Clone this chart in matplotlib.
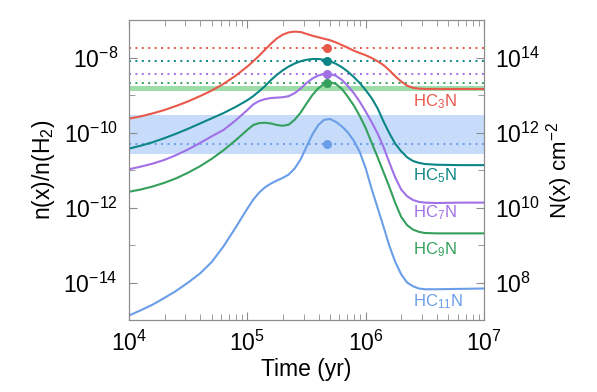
import numpy as np
import matplotlib
matplotlib.use("Agg")
import matplotlib.pyplot as plt
from matplotlib.ticker import FixedLocator, NullFormatter, LogLocator

plt.rcParams['font.family'] = ['Liberation Sans', 'DejaVu Sans']
plt.rcParams['mathtext.default'] = 'regular'
plt.rcParams['axes.unicode_minus'] = False

# log10 of time (yr) at which values were read
log_time = [4.0, 4.1, 4.2, 4.3, 4.4, 4.5, 4.6, 4.7, 4.8, 4.9,
            5.0, 5.05, 5.1, 5.15, 5.2, 5.25, 5.3, 5.35, 5.4, 5.45,
            5.5, 5.55, 5.6, 5.65, 5.7, 5.75, 5.8, 5.85, 5.9, 5.95,
            6.0, 6.05, 6.1, 6.15, 6.2, 6.25, 6.3, 6.35, 6.4, 6.45,
            6.5, 6.6, 6.8, 7.0]

# log10 abundances
hc3n = [-9.63, -9.57, -9.49, -9.40, -9.29, -9.17, -9.03, -8.88, -8.70, -8.49,
        -8.24, -8.10, -7.95, -7.79, -7.63, -7.49, -7.39, -7.33, -7.31, -7.32,
        -7.37, -7.42, -7.46, -7.50, -7.54, -7.60, -7.67, -7.74, -7.82, -7.88,
        -7.94, -8.01, -8.10, -8.20, -8.34, -8.50, -8.64, -8.75, -8.81, -8.83,
        -8.84, -8.84, -8.84, -8.84]
hc5n = [-10.43, -10.35, -10.26, -10.15, -10.03, -9.90, -9.76, -9.62, -9.48, -9.32,
        -9.14, -9.03, -8.90, -8.76, -8.60, -8.46, -8.34, -8.24, -8.16, -8.10,
        -8.06, -8.04, -8.04, -8.06, -8.10, -8.17, -8.26, -8.38, -8.52, -8.68,
        -8.87, -9.08, -9.35, -9.70, -10.02, -10.30, -10.50, -10.66, -10.76, -10.81,
        -10.84, -10.86, -10.87, -10.87]
hc7n = [-10.98, -10.91, -10.83, -10.73, -10.60, -10.45, -10.28, -10.10, -9.93, -9.68,
        -9.40, -9.25, -9.16, -9.11, -9.08, -9.07, -9.06, -9.03, -8.95, -8.83,
        -8.68, -8.56, -8.48, -8.44, -8.44, -8.49, -8.60, -8.76, -8.95, -9.18,
        -9.44, -9.72, -10.02, -10.38, -10.80, -11.20, -11.52, -11.70, -11.80, -11.85,
        -11.87, -11.88, -11.87, -11.87]
hc9n = [-11.58, -11.52, -11.44, -11.34, -11.22, -11.07, -10.90, -10.70, -10.47, -10.21,
        -9.93, -9.80, -9.75, -9.74, -9.76, -9.80, -9.82, -9.79, -9.66, -9.47,
        -9.23, -9.00, -8.82, -8.70, -8.66, -8.71, -8.84, -9.05, -9.28, -9.56,
        -9.88, -10.27, -10.65, -11.05, -11.45, -11.88, -12.25, -12.47, -12.59, -12.65,
        -12.68, -12.69, -12.69, -12.69]
hc11n = [-14.88, -14.74, -14.59, -14.41, -14.22, -14.00, -13.76, -13.45, -13.03, -12.54,
         -12.03, -11.79, -11.60, -11.46, -11.36, -11.28, -11.21, -11.12, -10.96, -10.72,
         -10.38, -10.05, -9.80, -9.66, -9.64, -9.72, -9.84, -10.00, -10.22, -10.52,
         -10.95, -11.50, -12.00, -12.50, -13.02, -13.45, -13.78, -14.00, -14.10, -14.16,
         -14.18, -14.18, -14.17, -14.16]

names = ['HC$_3$N', 'HC$_5$N', 'HC$_7$N', 'HC$_9$N', 'HC$_{11}$N']
colors = ['#e8584b', '#0b8585', '#a070e6', '#34a05c', '#6a9ee8']
series = [hc3n, hc5n, hc7n, hc9n, hc11n]

# observed values (log10): dotted lines & markers
obs_log = [-7.75, -8.09, -8.44, -8.67, -10.31]
obs_time = 4.7e5
# observed bands (log10)
green_band = (-8.90, -8.77)
blue_band = (-10.56, -9.54)
# label positions (log10)
label_log = [-9.17, -11.14, -12.15, -13.13, -14.52]
label_time = 2.5e6

time = 10 ** np.array(log_time)

fig = plt.figure(figsize=(5.97, 3.92), dpi=100)
ax = fig.add_axes([129/597, 72/392, 355/597, 300/392])

ax.axhspan(10**blue_band[0], 10**blue_band[1], color='#c6dcfa', lw=0, zorder=1)
ax.axhspan(10**green_band[0], 10**green_band[1], color='#9edca9', lw=0, zorder=1)

for c, o in zip(colors, obs_log):
    ax.axhline(10**o, color=c, lw=1.4, ls=(0, (1, 2.3)), zorder=2)

for s, c in zip(series, colors):
    ax.plot(time, 10**np.array(s), color=c, lw=1.5, zorder=3)

for c, o in zip(colors, obs_log):
    ax.plot([obs_time], [10**o], 'o', color=c, ms=5.5, zorder=4)

for n, c, l in zip(names, colors, label_log):
    ax.text(label_time, 10**l, n, color=c, fontsize=12, ha='left', va='center')

ax.set_xscale('log')
ax.set_yscale('log')
ax.set_xlim(1e4, 1e7)
ax.set_ylim(1e-15, 1e-7)

ax.yaxis.set_major_locator(FixedLocator([1e-14, 1e-12, 1e-10, 1e-8]))
ax.yaxis.set_minor_locator(FixedLocator([1e-15, 1e-13, 1e-11, 1e-9, 1e-7]))
ax.yaxis.set_minor_formatter(NullFormatter())
ax.xaxis.set_major_locator(FixedLocator([1e4, 1e5, 1e6, 1e7]))
ax.xaxis.set_minor_locator(LogLocator(base=10, subs=np.arange(2, 10)))
ax.xaxis.set_minor_formatter(NullFormatter())

edge = '#8c8c8c'
for sp in ax.spines.values():
    sp.set_color(edge)
ax.tick_params(which='both', direction='in', color=edge, top=True, right=False, labelsize=16.5)
ax.tick_params(which='major', length=6)
ax.tick_params(which='minor', length=4)
ax.tick_params(axis='y', pad=8)
ax.tick_params(axis='x', pad=8)

ax.set_xlabel('Time (yr)', fontsize=16.5, labelpad=1)
ax.set_ylabel('n(x)/n(H$_2$)', fontsize=16.5, labelpad=5)

ax2 = ax.twinx()
ax2.set_yscale('log')
ax2.set_ylim(1e7, 1e15)
ax2.yaxis.set_major_locator(FixedLocator([1e8, 1e10, 1e12, 1e14]))
ax2.yaxis.set_minor_locator(FixedLocator([1e7, 1e9, 1e11, 1e13, 1e15]))
ax2.yaxis.set_minor_formatter(NullFormatter())
for sp in ax2.spines.values():
    sp.set_color(edge)
ax2.tick_params(which='both', direction='in', color=edge, labelsize=16.5, pad=8)
ax2.tick_params(which='major', length=6)
ax2.tick_params(which='minor', length=4)
ax2.set_ylabel('N(x) cm$^{-2}$', fontsize=16, labelpad=3)

fig.savefig('out.png', dpi=100)
